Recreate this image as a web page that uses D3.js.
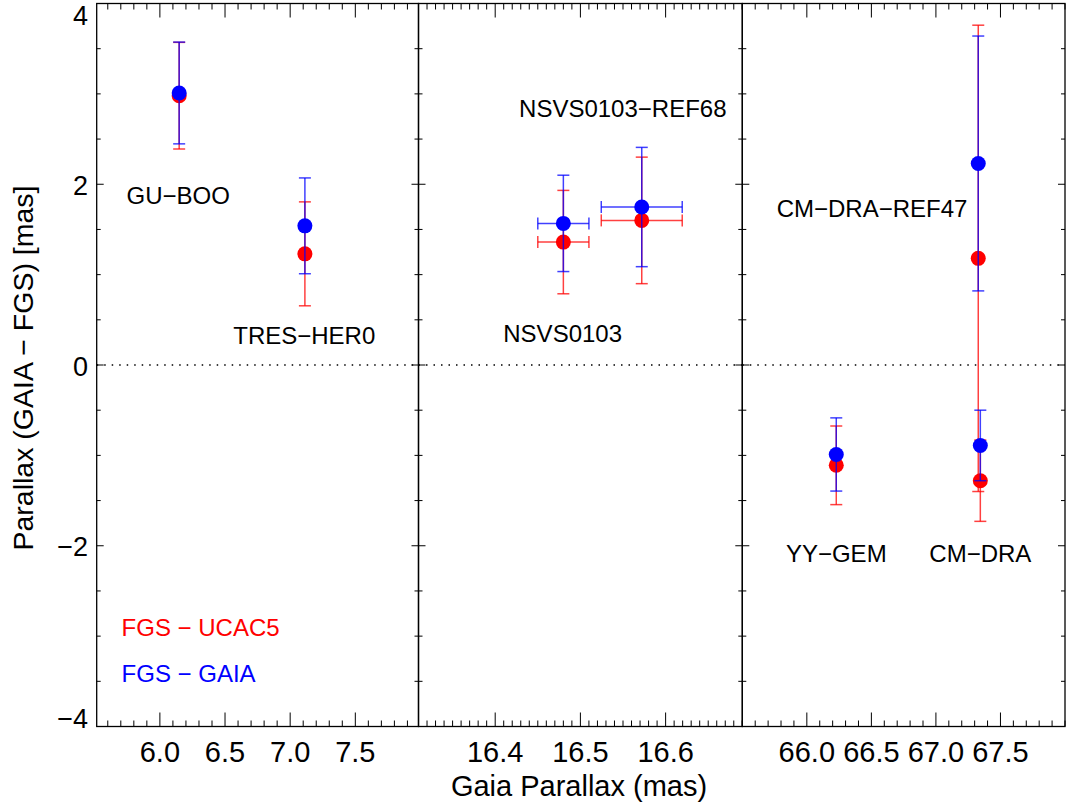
<!DOCTYPE html>
<html>
<head>
<meta charset="utf-8">
<script src="https://cdn.jsdelivr.net/npm/d3@7"></script>
<style>
  html, body { margin: 0; padding: 0; background: #fff; }
  svg { display: block; }
  text { font-family: "Liberation Sans", Arial, Helvetica, sans-serif; }
</style>
</head>
<body>
<svg id="chart" width="1067" height="803"></svg>
<script>
// Stars, grouped into three x-axis panels
const stars      = ["GU\u2212BOO", "TRES\u2212HER0", "NSVS0103", "NSVS0103\u2212REF68", "YY\u2212GEM", "CM\u2212DRA\u2212REF47", "CM\u2212DRA"];
const starPanel  = [0, 0, 1, 1, 2, 2, 2];

// Gaia parallax (mas) and its error
const gaiaPlx    = [6.148, 7.113, 16.480, 16.572, 66.228, 67.328, 67.344];
const gaiaPlxErr = [0, 0, 0.030, 0.0475, 0, 0, 0];

// Parallax differences (mas): FGS - UCAC5 (red) and FGS - GAIA (blue)
const diffUcac5  = [2.98, 1.23, 1.36, 1.60, -1.11, 1.18, -1.28];
const errUcac5   = [0.59, 0.575, 0.572, 0.70, 0.435, 2.58, 0.45];
const diffGaia   = [3.01, 1.54, 1.567, 1.748, -0.99, 2.23, -0.89];
const errGaia    = [0.563, 0.53, 0.533, 0.66, 0.405, 1.41, 0.39];

// Panel x ranges and ticks
const panelDomains = [[5.515, 7.985], [16.31, 16.69], [65.5, 68.0]];
const panelTicks   = [[6.0, 6.5, 7.0, 7.5], [16.4, 16.5, 16.6], [66.0, 66.5, 67.0, 67.5]];
const panelMinor   = [0.1, 0.01, 0.1];
const yDomain      = [-4, 4];
const yMajorTicks  = [-4, -2, 0, 2, 4];
const yMinorStep   = 0.5;

// Star name annotations (data coordinates of text start / baseline)
const labelText  = ["GU\u2212BOO", "TRES\u2212HER0", "NSVS0103\u2212REF68", "NSVS0103", "CM\u2212DRA\u2212REF47", "YY\u2212GEM", "CM\u2212DRA"];
const labelPanel = [0, 0, 1, 1, 2, 2, 2];
const labelX     = [5.744, 6.563, 16.428, 16.4095, 65.766, 65.838, 66.949];
const labelY     = [1.78, 0.233, 2.743, 0.251, 1.639, -2.18, -2.18];

// Legend entries
const legendText  = ["FGS \u2212 UCAC5", "FGS \u2212 GAIA"];
const legendColor = ["#ff0000", "#0000ff"];

const series = [
  { values: diffUcac5, errors: errUcac5, color: "#ff0000" },
  { values: diffGaia,  errors: errGaia,  color: "#0000ff" }
];

const svg = d3.select("#chart");

const panelEdges = [96.7, 418.5, 742.3, 1065];
const plotTop = 3.5, plotBottom = 726.5;

const y = d3.scaleLinear().domain(yDomain).range([plotBottom, plotTop]);
const xScales = panelDomains.map((d, i) =>
  d3.scaleLinear().domain(d).range([panelEdges[i], panelEdges[i + 1]]));

const majorLen = 14, minorLen = 6, yMajorLen = 7, yMinorLen = 4;

function rangeStep(a, b, step) {
  const out = [];
  const n0 = Math.ceil(a / step - 1e-9), n1 = Math.floor(b / step + 1e-9);
  for (let n = n0; n <= n1; n++) out.push(+(n * step).toFixed(6));
  return out;
}

const yMinor = rangeStep(yDomain[0], yDomain[1], yMinorStep)
  .filter(v => !yMajorTicks.some(m => Math.abs(m - v) < 1e-9));

// Panels: frame, ticks, zero line
xScales.forEach((x, i) => {
  const g = svg.append("g");
  const [x0, x1] = x.range();

  // dotted zero line
  g.append("line")
    .attr("x1", x0).attr("x2", x1)
    .attr("y1", y(0)).attr("y2", y(0))
    .attr("stroke", "#000").attr("stroke-width", 1.3)
    .attr("stroke-dasharray", "1.5,6");

  // x ticks (top and bottom, inward)
  const minors = rangeStep(x.domain()[0], x.domain()[1], panelMinor[i])
    .filter(v => !panelTicks[i].some(m => Math.abs(m - v) < 1e-9));
  const xt = [...panelTicks[i].map(v => [v, majorLen]), ...minors.map(v => [v, minorLen])];
  xt.forEach(([v, len]) => {
    const px = x(v);
    g.append("line").attr("x1", px).attr("x2", px)
      .attr("y1", plotBottom).attr("y2", plotBottom - len)
      .attr("stroke", "#000").attr("stroke-width", 1);
    g.append("line").attr("x1", px).attr("x2", px)
      .attr("y1", plotTop).attr("y2", plotTop + len)
      .attr("stroke", "#000").attr("stroke-width", 1);
  });

  // y ticks (left and right, inward)
  const yt = [...yMajorTicks.map(v => [v, yMajorLen]), ...yMinor.map(v => [v, yMinorLen])];
  yt.forEach(([v, len]) => {
    const py = y(v);
    g.append("line").attr("x1", x0).attr("x2", x0 + len)
      .attr("y1", py).attr("y2", py).attr("stroke", "#000").attr("stroke-width", 1);
    g.append("line").attr("x1", x1).attr("x2", x1 - len)
      .attr("y1", py).attr("y2", py).attr("stroke", "#000").attr("stroke-width", 1);
  });

  // frame
  g.append("rect")
    .attr("x", x0).attr("y", plotTop)
    .attr("width", x1 - x0).attr("height", plotBottom - plotTop)
    .attr("fill", "none").attr("stroke", "#000").attr("stroke-width", 1.3);

  // x tick labels
  g.selectAll("text.xt").data(panelTicks[i]).enter().append("text")
    .attr("x", d => x(d)).attr("y", 762)
    .attr("text-anchor", "middle")
    .attr("font-size", 29)
    .text(d => d.toFixed(1));
});

// y tick labels, kept inside the plot's vertical extent
svg.selectAll("text.yt").data(yMajorTicks).enter().append("text")
  .attr("x", 88).attr("y", d => Math.min(Math.max(y(d) + 10.5, 24.5), 727.5))
  .attr("text-anchor", "end")
  .attr("font-size", 27)
  .text(d => d < 0 ? "\u2212" + Math.abs(d) : String(d));

// axis titles
svg.append("text")
  .attr("x", 579).attr("y", 796)
  .attr("text-anchor", "middle")
  .attr("font-size", 29)
  .text("Gaia Parallax (mas)");

svg.append("text")
  .attr("transform", "translate(33,368) rotate(-90)")
  .attr("text-anchor", "middle")
  .attr("font-size", 28.5)
  .text("Parallax (GAIA \u2212 FGS) [mas]");

// error bars and points, red series under blue series
const capHalf = 6, capHalfX = 6, radius = 7.5;
series.forEach(s => {
  const g = svg.append("g");
  stars.forEach((name, k) => {
    const x = xScales[starPanel[k]];
    const cx = x(gaiaPlx[k]), cy = y(s.values[k]);
    const yHi = y(s.values[k] + s.errors[k]), yLo = y(s.values[k] - s.errors[k]);
    const bar = g.append("g").attr("stroke", s.color).attr("stroke-width", 1.5).attr("stroke-opacity", 0.75);
    bar.append("line").attr("x1", cx).attr("x2", cx).attr("y1", yHi).attr("y2", yLo);
    bar.append("line").attr("x1", cx - capHalf).attr("x2", cx + capHalf).attr("y1", yHi).attr("y2", yHi);
    bar.append("line").attr("x1", cx - capHalf).attr("x2", cx + capHalf).attr("y1", yLo).attr("y2", yLo);
    if (gaiaPlxErr[k] > 0) {
      const xL = x(gaiaPlx[k] - gaiaPlxErr[k]), xR = x(gaiaPlx[k] + gaiaPlxErr[k]);
      bar.append("line").attr("x1", xL).attr("x2", xR).attr("y1", cy).attr("y2", cy);
      bar.append("line").attr("x1", xL).attr("x2", xL).attr("y1", cy - capHalfX).attr("y2", cy + capHalfX);
      bar.append("line").attr("x1", xR).attr("x2", xR).attr("y1", cy - capHalfX).attr("y2", cy + capHalfX);
    }
    g.append("circle").attr("cx", cx).attr("cy", cy).attr("r", radius).attr("fill", s.color);
  });
});

// star names
labelText.forEach((t, k) => {
  const x = xScales[labelPanel[k]];
  svg.append("text")
    .attr("x", x(labelX[k])).attr("y", y(labelY[k]))
    .attr("font-size", 24)
    .text(t);
});

// legend
legendText.forEach((t, k) => {
  svg.append("text")
    .attr("x", xScales[0](5.706)).attr("y", y(-3.0 - 0.507 * k))
    .attr("font-size", 24)
    .attr("fill", legendColor[k])
    .text(t);
});
</script>
</body>
</html>
